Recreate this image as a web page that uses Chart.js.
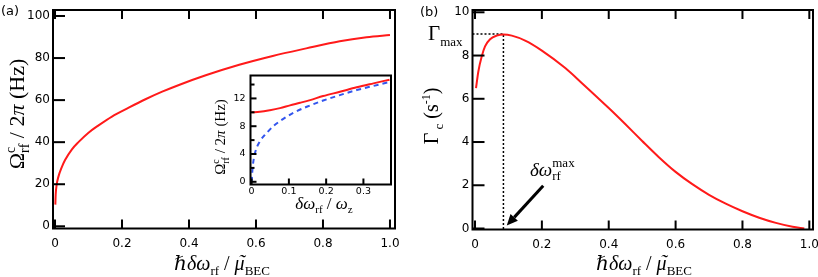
<!DOCTYPE html>
<html>
<head>
<meta charset="utf-8">
<script src="https://cdn.jsdelivr.net/npm/chart.js@4.4.0/dist/chart.umd.min.js"></script>
<style>
  html, body { margin: 0; padding: 0; background: #fff; overflow: hidden; }
  #wrap { position: relative; width: 818px; height: 277px; background: #fff; }
  canvas { position: absolute; }
</style>
</head>
<body>
<div id="wrap">
  <canvas id="panelA" width="409" height="277" style="left:0;top:0;width:409px;height:277px"></canvas>
  <canvas id="panelB" width="409" height="277" style="left:409px;top:0;width:409px;height:277px"></canvas>
  <canvas id="inset" width="205" height="155" style="left:195px;top:65px;width:205px;height:155px"></canvas>
</div>
<script>
// ---- data ----
// (a) critical Rabi frequency vs detuning
const detuningA = [0.001, 0.002, 0.005, 0.01, 0.02, 0.03, 0.05, 0.07, 0.1, 0.13, 0.17, 0.22, 0.27, 0.32, 0.37, 0.45, 0.55, 0.65, 0.75, 0.85, 0.93, 1.0];
const omegaA = [10.3, 15, 19.8, 23.5, 28, 31.5, 36.5, 40, 44.5, 48, 52.2, 56.4, 60.4, 64, 67.2, 71.8, 76.8, 81, 84.6, 88, 89.9, 91];

// (a) inset, detuning in units of omega_z
const insetRedX = [0, 0.022, 0.049, 0.076, 0.103, 0.13, 0.157, 0.192, 0.237, 0.282, 0.327, 0.37];
const insetRedY = [10.0, 10.07, 10.3, 10.6, 11.0, 11.37, 11.76, 12.34, 12.96, 13.6, 14.17, 14.7];
const insetBlueX = [0, 0.003, 0.009, 0.022, 0.04, 0.058, 0.085, 0.112, 0.148, 0.192, 0.237, 0.282, 0.327, 0.37];
const insetBlueY = [0, 2.2, 4.1, 5.8, 7.0, 8.0, 9.06, 9.93, 10.8, 11.7, 12.48, 13.2, 13.8, 14.36];

// (b) decay rate vs detuning
const detuningB = [0.003, 0.01, 0.02, 0.03, 0.045, 0.065, 0.085, 0.11, 0.15, 0.2, 0.27, 0.32, 0.4, 0.45, 0.5, 0.55, 0.6, 0.65, 0.7, 0.75, 0.8, 0.85, 0.9, 0.95, 0.985];
const gammaB = [6.49, 7.26, 7.95, 8.42, 8.75, 8.92, 8.97, 8.92, 8.69, 8.23, 7.42, 6.72, 5.57, 4.82, 4.05, 3.30, 2.62, 2.05, 1.56, 1.15, 0.80, 0.50, 0.26, 0.08, 0.0];
const peakX = 0.085;
const peakY = 9.0;
const arrowTail = [0.204, 1.98];
const arrowTip = [0.095, 0.14];

// tick values
const xTicksMain = [0, 0.2, 0.4, 0.6, 0.8, 1.0];
const yTicksA = [0, 20, 40, 60, 80, 100];
const yTicksB = [0, 2, 4, 6, 8, 10];
const xTicksInset = [0, 0.1, 0.2, 0.3];
const yTicksInset = [0, 4, 8, 12];
const yMinorInset = [2, 6, 10, 14];

const SERIF = "'Liberation Serif', 'DejaVu Serif', serif";
const SANS = "'DejaVu Sans', sans-serif";

const toPoints = (xs, ys) => xs.map((x, i) => ({ x: x, y: ys[i] }));
const fmtDec = v => (v === 0 ? '0' : v.toFixed(1));
const fmtInt = v => String(v);

// frame + inward tick marks, positions taken from the scales
function axisBox(cfg) {
  return {
    id: 'axisBox',
    beforeDraw(chart) {
      if (!cfg.fill) return;
      const a = chart.chartArea;
      chart.ctx.save();
      chart.ctx.fillStyle = cfg.fill;
      chart.ctx.fillRect(a.left, a.top, a.right - a.left, a.bottom - a.top);
      chart.ctx.restore();
    },
    afterDraw(chart) {
      const ctx = chart.ctx, a = chart.chartArea;
      const sx = chart.scales.x, sy = chart.scales.y;
      const w = cfg.tickWidth;
      ctx.save();
      ctx.strokeStyle = '#000';
      ctx.lineWidth = cfg.frameWidth;
      ctx.strokeRect(a.left, a.top, a.right - a.left, a.bottom - a.top);
      ctx.fillStyle = '#000';
      cfg.xTicks.forEach(v => {
        const px = sx.getPixelForValue(v);
        ctx.fillRect(px - w / 2, a.bottom - cfg.xLen, w, cfg.xLen);
        if (cfg.top) ctx.fillRect(px - w / 2, a.top, w, cfg.xLen);
      });
      cfg.yTicks.forEach(v => {
        const py = sy.getPixelForValue(v);
        ctx.fillRect(a.left, py - w / 2, cfg.yLen, w);
      });
      (cfg.yMinor || []).forEach(v => {
        const py = sy.getPixelForValue(v);
        ctx.fillRect(a.left, py - w / 2, cfg.yMinorLen, w);
      });
      ctx.restore();
    }
  };
}

// text with sub/superscripts
function partFont(p) {
  return (p.i ? 'italic ' : '') + p.s + 'px ' + (p.sans ? SANS : SERIF);
}
function drawParts(ctx, parts, x, y, align) {
  let w = 0, held = 0;
  parts.forEach(p => {
    ctx.font = partFont(p);
    p.w = ctx.measureText(p.t).width;
    if (p.hold) { held = p.w; return; }
    w += Math.max(p.w, held);
    held = 0;
  });
  let cx = align === 'center' ? x - w / 2 : x;
  held = 0;
  parts.forEach(p => {
    ctx.font = partFont(p);
    ctx.textAlign = 'left';
    ctx.fillText(p.t, cx, y + (p.dy || 0));
    if (p.tilde) {
      ctx.textAlign = 'center';
      ctx.fillText('\u02DC', cx + p.w / 2 + 2, y + (p.dy || 0) - 1);
      ctx.textAlign = 'left';
    }
    if (p.hold) { held = p.w; return; }
    cx += Math.max(p.w, held);
    held = 0;
  });
}
function richText(items) {
  return {
    id: 'richText',
    afterDraw(chart) {
      const ctx = chart.ctx;
      items.forEach(it => {
        ctx.save();
        ctx.fillStyle = '#000';
        ctx.textBaseline = 'alphabetic';
        if (it.rotate) {
          ctx.translate(it.x, it.y);
          ctx.rotate(-Math.PI / 2);
          drawParts(ctx, it.parts, 0, 0, 'center');
        } else {
          drawParts(ctx, it.parts, it.x, it.y, it.align || 'left');
        }
        ctx.restore();
      });
    }
  };
}

// arrow pointing at the optimum detuning
function arrowPlugin(from, to) {
  return {
    id: 'arrowPlugin',
    afterDatasetsDraw(chart) {
      const ctx = chart.ctx;
      const sx = chart.scales.x, sy = chart.scales.y;
      const x0 = sx.getPixelForValue(from[0]), y0 = sy.getPixelForValue(from[1]);
      const x1 = sx.getPixelForValue(to[0]), y1 = sy.getPixelForValue(to[1]);
      const ang = Math.atan2(y1 - y0, x1 - x0);
      const head = 11, half = 5;
      const bx = x1 - head * Math.cos(ang), by = y1 - head * Math.sin(ang);
      ctx.save();
      ctx.setLineDash([]);
      ctx.strokeStyle = '#000';
      ctx.fillStyle = '#000';
      ctx.lineWidth = 3;
      ctx.beginPath();
      ctx.moveTo(x0, y0);
      ctx.lineTo(bx, by);
      ctx.stroke();
      ctx.beginPath();
      ctx.moveTo(x1, y1);
      ctx.lineTo(bx + half * Math.sin(ang), by - half * Math.cos(ang));
      ctx.lineTo(bx - half * Math.sin(ang), by + half * Math.cos(ang));
      ctx.closePath();
      ctx.fill();
      ctx.restore();
    }
  };
}

function linearAxis(opts) {
  return {
    type: 'linear',
    min: opts.min,
    max: opts.max,
    grid: { display: false, drawTicks: false },
    border: { display: false },
    ticks: {
      color: '#000',
      font: { family: SANS, size: opts.fontSize },
      padding: opts.padding,
      maxRotation: 0,
      autoSkip: false,
      callback: opts.format
    },
    afterBuildTicks: s => { s.ticks = opts.ticks.map(v => ({ value: v })); },
    afterFit: s => {
      if (opts.width !== undefined) s.width = opts.width;
      if (opts.height !== undefined) s.height = opts.height;
      s.paddingLeft = 0; s.paddingRight = 0; s.paddingTop = 0; s.paddingBottom = 0;
    }
  };
}

const redLine = (data) => ({
  data: data,
  borderColor: '#ff1a1a',
  borderWidth: 2,
  pointRadius: 0,
  fill: false,
  cubicInterpolationMode: 'monotone'
});

const baseOptions = {
  responsive: false,
  animation: false,
  devicePixelRatio: 1,
  events: []
};
const quiet = { legend: { display: false }, tooltip: { enabled: false } };

const xTitleMain = [
  { t: 'ℏ', s: 20, i: true }, { t: 'δω', s: 20, i: true }, { t: 'rf', s: 13, dy: 5 },
  { t: ' / ', s: 20 }, { t: 'μ', s: 20, i: true, tilde: true }, { t: 'BEC', s: 13, dy: 5 }
];

// ---- panel (a) ----
new Chart(document.getElementById('panelA'), {
  type: 'line',
  data: { datasets: [redLine(toPoints(detuningA, omegaA))] },
  plugins: [
    axisBox({ xTicks: xTicksMain, yTicks: yTicksA, xLen: 9, yLen: 12, top: true, tickWidth: 2, frameWidth: 2 }),
    richText([
      { x: 1, y: 15, parts: [{ t: '(a)', s: 13, sans: true }] },
      { rotate: true, x: 24, y: 114, parts: [
        { t: 'Ω', s: 22 }, { t: 'c', s: 14, dy: -9, hold: true }, { t: 'rf', s: 14, dy: 5 },
        { t: ' / 2', s: 22 }, { t: 'π', s: 22, i: true }, { t: ' (Hz)', s: 22 }
      ] },
      { x: 222, y: 270, align: 'center', parts: xTitleMain }
    ])
  ],
  options: Object.assign({}, baseOptions, {
    layout: { padding: { top: 10, right: 14, left: 0, bottom: 0 } },
    plugins: quiet,
    scales: {
      x: linearAxis({ min: -0.006, max: 1.015, ticks: xTicksMain, format: fmtDec, fontSize: 12, padding: 8, height: 48.5 }),
      y: linearAxis({ min: -1.05, max: 102.85, ticks: yTicksA, format: fmtInt, fontSize: 12, padding: 3, width: 53 })
    }
  })
});

// ---- inset of (a) ----
new Chart(document.getElementById('inset'), {
  type: 'line',
  data: {
    datasets: [
      redLine(toPoints(insetRedX, insetRedY)),
      {
        data: toPoints(insetBlueX, insetBlueY),
        borderColor: '#3355ee',
        borderWidth: 2,
        borderDash: [5, 4],
        pointRadius: 0,
        fill: false,
        cubicInterpolationMode: 'monotone'
      }
    ]
  },
  plugins: [
    axisBox({ fill: '#fff', xTicks: xTicksInset, yTicks: yTicksInset, yMinor: yMinorInset, xLen: 6, yLen: 6, yMinorLen: 4, top: false, tickWidth: 2, frameWidth: 2 }),
    richText([
      { rotate: true, x: 30, y: 72, parts: [
        { t: 'Ω', s: 15 }, { t: 'c', s: 10, dy: -6, hold: true }, { t: 'rf', s: 10, dy: 4 },
        { t: ' / 2', s: 15 }, { t: 'π', s: 15, i: true }, { t: ' (Hz)', s: 15 }
      ] },
      { x: 129, y: 144, align: 'center', parts: [
        { t: 'δω', s: 17, i: true }, { t: 'rf', s: 11, dy: 4 }, { t: ' / ', s: 17 },
        { t: 'ω', s: 17, i: true }, { t: 'z', s: 11, dy: 4 }
      ] }
    ])
  ],
  options: Object.assign({}, baseOptions, {
    layout: { padding: { top: 10.5, right: 9, left: 0, bottom: 0 } },
    plugins: quiet,
    scales: {
      x: linearAxis({ min: -0.003, max: 0.374, ticks: xTicksInset, format: fmtDec, fontSize: 9.5, padding: 1, height: 35.5 }),
      y: linearAxis({ min: -0.39, max: 15.3, ticks: yTicksInset, format: fmtInt, fontSize: 9.5, padding: 5, width: 55.5 })
    }
  })
});

// ---- panel (b) ----
new Chart(document.getElementById('panelB'), {
  type: 'line',
  data: {
    datasets: [
      redLine(toPoints(detuningB, gammaB)),
      {
        data: [{ x: -0.0075, y: peakY }, { x: peakX, y: peakY }, { x: peakX, y: -0.046 }],
        borderColor: '#000',
        borderWidth: 1.5,
        borderDash: [2, 2],
        pointRadius: 0,
        fill: false,
        tension: 0
      }
    ]
  },
  plugins: [
    axisBox({ xTicks: xTicksMain, yTicks: yTicksB, xLen: 9, yLen: 12, top: true, tickWidth: 2, frameWidth: 2 }),
    arrowPlugin(arrowTail, arrowTip),
    richText([
      { x: 11, y: 16, parts: [{ t: '(b)', s: 13, sans: true }] },
      { x: 19, y: 40, parts: [{ t: 'Γ', s: 21 }, { t: 'max', s: 13, dy: 6 }] },
      { rotate: true, x: 29, y: 116, parts: [
        { t: 'Γ', s: 20 }, { t: ' c', s: 13, dy: 5 }, { t: ' (s', s: 20 },
        { t: '-1', s: 12, dy: -8 }, { t: ')', s: 20 }
      ] },
      { x: 121, y: 176, parts: [
        { t: 'δω', s: 19, i: true }, { t: 'max', s: 13, dy: -9, hold: true }, { t: 'rf', s: 13, dy: 4 }
      ] },
      { x: 235, y: 270, align: 'center', parts: xTitleMain }
    ])
  ],
  options: Object.assign({}, baseOptions, {
    layout: { padding: { top: 10, right: 5, left: 0, bottom: 0 } },
    plugins: quiet,
    scales: {
      x: linearAxis({ min: -0.0075, max: 1.011, ticks: xTicksMain, format: fmtDec, fontSize: 12, padding: 8, height: 47.5 }),
      y: linearAxis({ min: -0.046, max: 10.106, ticks: yTicksB, format: fmtInt, fontSize: 12, padding: 3, width: 63.5 })
    }
  })
});
</script>
</body>
</html>
